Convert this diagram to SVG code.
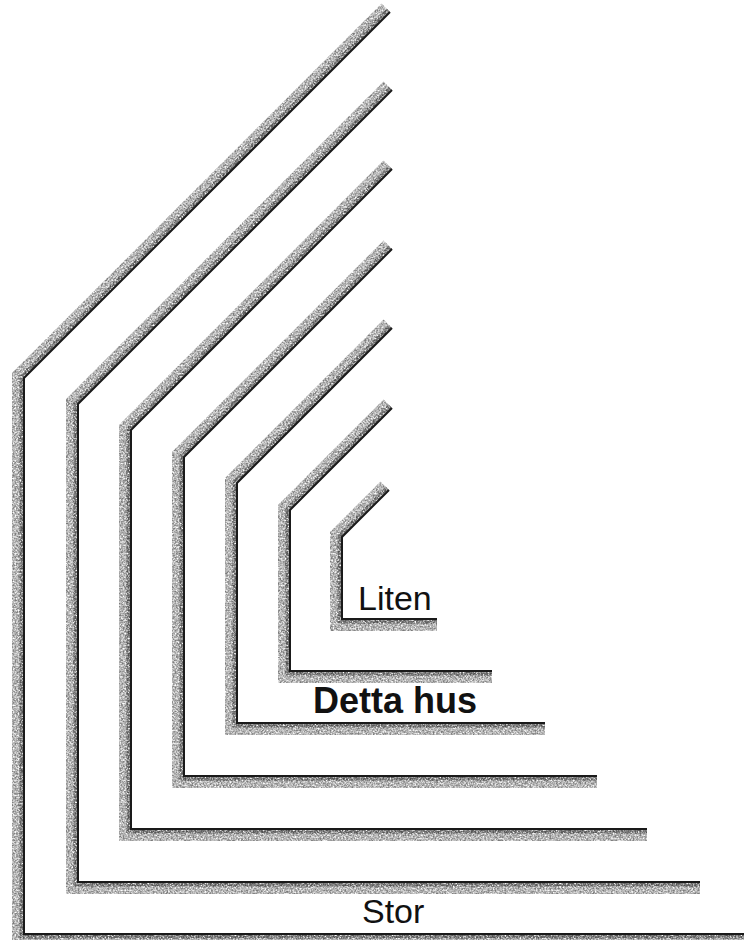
<svg xmlns="http://www.w3.org/2000/svg" width="744" height="940" viewBox="0 0 744 940">
<defs>
<filter id="grain" filterUnits="userSpaceOnUse" x="0" y="0" width="744" height="940">
<feTurbulence type="fractalNoise" baseFrequency="0.6" numOctaves="2" seed="7" result="noise"/>
<feColorMatrix in="noise" type="matrix" values="0 0 0 0 0  0 0 0 0 0  0 0 0 0 0  1.8 0 0 0 -0.35" result="mask"/>
<feComposite in="SourceGraphic" in2="mask" operator="in"/>
</filter>
</defs>
<style>
.sh{fill:none;stroke:#7a7a7a;stroke-width:12;stroke-linejoin:miter;filter:url(#grain)}
.in{fill:none;stroke:#505050;stroke-width:4;stroke-linejoin:miter;filter:url(#grain)}
.ln{fill:none;stroke:#1a1a1a;stroke-width:2;stroke-linejoin:miter}
.lbl{font-family:"Liberation Sans",Arial,sans-serif;font-size:34px;fill:#111}
.b{font-weight:bold;font-size:36px}
</style>
<rect width="744" height="940" fill="#fff"/>
<g id="shape-1">
<path class="sh" d="M385.8,7.8 L18,375.5 L18,940 L744,940"/>
<path class="in" d="M388.2,10.2 L21.5,377 L21.5,936.5 L744,936.5"/>
<path class="ln" d="M390,12 L24,378 L24,934 L744,934"/>
</g>
<g id="shape-2">
<path class="sh" d="M387.8,85.8 L72,401.5 L72,888 L700,888"/>
<path class="in" d="M390.2,88.2 L75.5,403 L75.5,884.5 L700,884.5"/>
<path class="ln" d="M392,90 L78,404 L78,882 L700,882"/>
</g>
<g id="shape-3">
<path class="sh" d="M387.8,164.8 L125,427.5 L125,835 L647,835"/>
<path class="in" d="M390.2,167.2 L128.5,429 L128.5,831.5 L647,831.5"/>
<path class="ln" d="M392,169 L131,430 L131,829 L647,829"/>
</g>
<g id="shape-4">
<path class="sh" d="M387.8,244.8 L178,454.5 L178,782 L597,782"/>
<path class="in" d="M390.2,247.2 L181.5,456 L181.5,778.5 L597,778.5"/>
<path class="ln" d="M392,249 L184,457 L184,776 L597,776"/>
</g>
<g id="shape-5">
<path class="sh" d="M387.8,323.8 L231,480.5 L231,729 L545,729"/>
<path class="in" d="M390.2,326.2 L234.5,482 L234.5,725.5 L545,725.5"/>
<path class="ln" d="M392,328 L237,483 L237,723 L545,723"/>
</g>
<g id="shape-6">
<path class="sh" d="M387.8,403.8 L284,507.5 L284,677 L492,677"/>
<path class="in" d="M390.2,406.2 L287.5,509 L287.5,673.5 L492,673.5"/>
<path class="ln" d="M392,408 L290,510 L290,671 L492,671"/>
</g>
<g id="shape-7">
<path class="sh" d="M384.8,485.8 L336,534.5 L336,625 L437,625"/>
<path class="in" d="M387.2,488.2 L339.5,536 L339.5,621.5 L437,621.5"/>
<path class="ln" d="M389,490 L342,537 L342,619 L437,619"/>
</g>
<g id="labels">
<text class="lbl" x="358" y="610">Liten</text>
<text class="lbl b" x="313" y="713">Detta hus</text>
<text class="lbl" x="362" y="923">Stor</text>
</g>
</svg>
